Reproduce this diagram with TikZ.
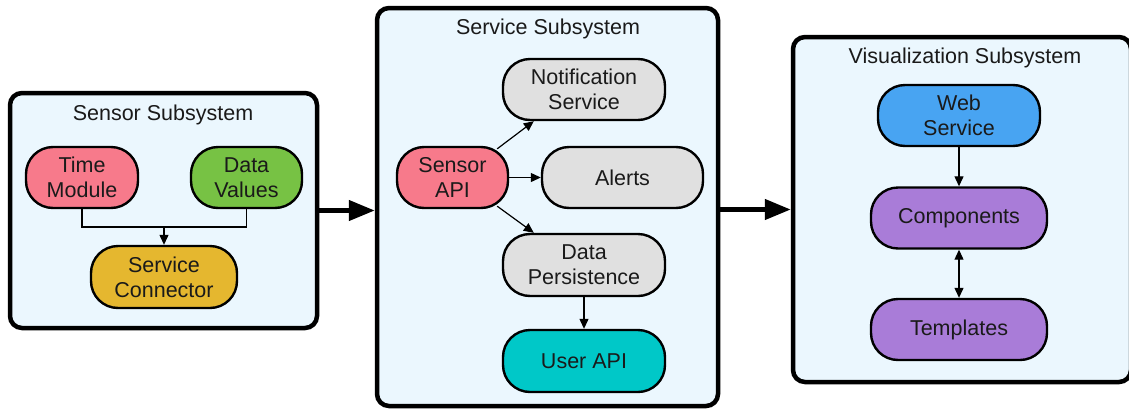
\documentclass[tikz,border=0pt]{standalone}
\usepackage{fontspec}
\setmainfont{Liberation Sans}
\usetikzlibrary{arrows.meta,calc}
\definecolor{boxfill}{HTML}{EBF7FE}
\definecolor{cpink}{HTML}{F77A8B}
\definecolor{cgreen}{HTML}{77C244}
\definecolor{cgold}{HTML}{E5B72F}
\definecolor{cgray}{HTML}{E0E0E0}
\definecolor{ccyan}{HTML}{00C8C8}
\definecolor{cblue}{HTML}{48A4F2}
\definecolor{cpurple}{HTML}{A97CD8}
\definecolor{ctext}{HTML}{1A1A1A}
\begin{document}
\begin{tikzpicture}[x=1pt,y=-1pt,
  every node/.style={font=\fontsize{21.5}{25}\selectfont, text=ctext},
  container/.style={draw=black, line width=4.5pt, fill=boxfill, rounded corners=12pt, inner sep=0pt},
  comp/.style={draw=black, line width=2.4pt, rounded corners=27pt, align=center, inner sep=0pt},
  conn/.style={line width=1.2pt, -{Triangle[length=10pt,width=9pt]}},
  plainconn/.style={line width=1.2pt},
  biconn/.style={line width=1.2pt, {Triangle[length=10pt,width=9pt]}-{Triangle[length=10pt,width=9pt]}},
  bigarrow/.style={line width=4.5pt, -{Triangle[length=26pt,width=20pt]}}
]
\useasboundingbox (0,0) rectangle (1129,410);
\fill[white] (0,0) rectangle (1129,410);

% containers
\node[container, minimum width=307pt, minimum height=235pt] (sensorbox) at (163.5,210.5) {};
\node[container, minimum width=341pt, minimum height=398pt] (servicebox) at (547.5,207) {};
\node[container, minimum width=338pt, minimum height=345pt] (visbox) at (962,209.5) {};

% titles
\node (sensortitle) at (163,115) {Sensor Subsystem};
\node (servicetitle) at (548,29) {Service Subsystem};
\node (vistitle) at (965,58) {Visualization Subsystem};

% sensor subsystem
\node[comp, fill=cpink, minimum width=112pt, minimum height=61pt] (time) at (82,177.5) {Time\\Module};
\node[comp, fill=cgreen, minimum width=111pt, minimum height=61pt] (data) at (246.5,177.5) {Data\\Values};
\node[comp, fill=cgold, minimum width=146pt, minimum height=62pt] (sconn) at (164,277) {Service\\Connector};
\coordinate (join) at (164,227);
\draw[plainconn] (time.south) |- (join) -| (data.south);
\draw[conn] (join) -- (sconn.north);

% service subsystem
\node[comp, fill=cpink, minimum width=111pt, minimum height=61pt] (sapi) at (452.5,177.5) {Sensor\\API};
\node[comp, fill=cgray, minimum width=162pt, minimum height=61pt] (notif) at (584,89.5) {Notification\\Service};
\node[comp, fill=cgray, minimum width=161pt, minimum height=61pt] (alerts) at (622.5,177.5) {Alerts};
\node[comp, fill=cgray, minimum width=162pt, minimum height=62pt] (persist) at (584,265) {Data\\Persistence};
\node[comp, fill=ccyan, minimum width=162pt, minimum height=62pt] (userapi) at (584,361) {User API};
\draw[conn] ($(sapi.north east)+(-12,3)$) -- ($(notif.south west)+(32,0)$);
\draw[conn] (sapi.east) -- (alerts.west);
\draw[conn] ($(sapi.south east)+(-12,-3)$) -- ($(persist.north west)+(32,0)$);
\draw[conn] (persist.south) -- (userapi.north);

% visualization subsystem
\node[comp, fill=cblue, minimum width=162pt, minimum height=61pt] (web) at (959,115.5) {Web\\Service};
\node[comp, fill=cpurple, minimum width=176pt, minimum height=61pt] (components) at (959,218) {Components};
\node[comp, fill=cpurple, minimum width=176pt, minimum height=61pt] (templates) at (959,329.5) {Templates};
\draw[conn] (web.south) -- (components.north);
\draw[biconn] (components.south) -- (templates.north);

% big arrows
\draw[bigarrow] (sensorbox.east) -- (servicebox.west |- sensorbox.east);
\draw[bigarrow] (servicebox.east |- visbox.east) -- (visbox.west);
\end{tikzpicture}
\end{document}
